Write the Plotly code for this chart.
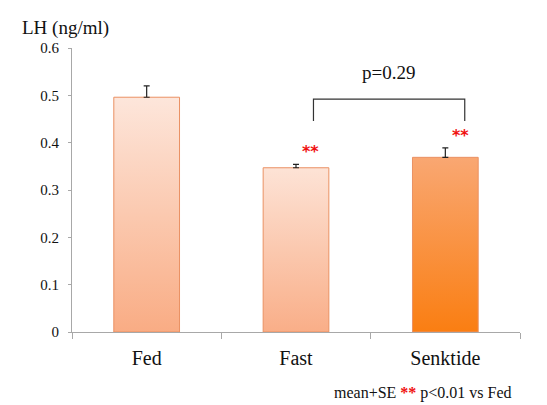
import plotly.graph_objects as go

categories = ["Fed", "Fast", "Senktide"]
means = [0.496, 0.347, 0.369]
se = [0.024, 0.007, 0.020]
top_colors = ["#FDE6DB", "#FDE3D6", "#F9A772"]
bottom_colors = ["#F9AC84", "#F9AE88", "#FA7E12"]
y_ticks = [0, 0.1, 0.2, 0.3, 0.4, 0.5, 0.6]
sig_labels = ["", "**", "**"]
p_label = "p=0.29"
bracket_y = 0.492
bracket_leg = 0.446

SERIF = "Liberation Serif, Times New Roman, serif"
bar_w = 0.44
xs = list(range(len(categories)))

fig = go.Figure()
for i, (m, tc, bc) in enumerate(zip(means, top_colors, bottom_colors)):
    fig.add_trace(go.Scatter(
        x=[i - bar_w / 2, i - bar_w / 2, i + bar_w / 2, i + bar_w / 2, i - bar_w / 2],
        y=[0, m, m, 0, 0],
        mode="lines", fill="toself",
        line=dict(color="#EA9163", width=1),
        fillgradient=dict(type="vertical", start=0, stop=m,
                          colorscale=[[0, bc], [1, tc]]),
        hoverinfo="skip", showlegend=False))

fig.add_trace(go.Scatter(
    x=xs, y=means, mode="markers",
    marker=dict(size=1, color="rgba(0,0,0,0)"),
    error_y=dict(type="data", array=se, arrayminus=[0] * len(se), symmetric=False,
                 color="#222222", thickness=1.2, width=3),
    showlegend=False, hoverinfo="skip"))

# significance stars
for i, (lab, m, e) in enumerate(zip(sig_labels, means, se)):
    if lab:
        fig.add_annotation(x=i + 0.1, y=m + e, yshift=1, text="<b>" + lab + "</b>",
                           showarrow=False, xanchor="center", yanchor="bottom",
                           font=dict(color="#F01010", size=16, family="DejaVu Sans"))

# bracket
fig.add_shape(type="path", xref="x", yref="y",
              path=f"M {1.117} {bracket_leg} L {1.117} {bracket_y} L {2.13} {bracket_y} L {2.13} {bracket_leg}",
              line=dict(color="#333333", width=1.2))
fig.add_annotation(x=1.62, y=0.549, text=p_label, showarrow=False,
                   font=dict(family=SERIF, size=19, color="#111111"))

# y title
fig.add_annotation(xref="paper", yref="paper", x=-0.116, y=1.072, text="LH (ng/ml)",
                   showarrow=False, xanchor="left", yanchor="middle",
                   font=dict(family=SERIF, size=19, color="#111111"))

# footnote
fig.add_annotation(xref="paper", yref="paper", x=0.986, y=-0.215,
                   text="mean+SE <span style='color:#F01010'><b>**</b></span> p<0.01 vs Fed",
                   showarrow=False, xanchor="right", yanchor="middle",
                   font=dict(family=SERIF, size=16, color="#111111"))

fig.update_layout(
    width=547, height=405,
    margin=dict(l=72, r=27, t=48, b=73),
    paper_bgcolor="white", plot_bgcolor="white",
    xaxis=dict(range=[-0.5, 2.5], tickvals=xs, ticktext=categories,
               ticks="", showline=True, linecolor="#A8A8A8", linewidth=1.2,
               showgrid=False, zeroline=False, ticklabelstandoff=8,
               tickfont=dict(family=SERIF, size=20, color="#111111"),
               minor=dict(tickvals=[-0.5, 0.5, 1.5, 2.5], ticks="outside",
                          ticklen=6, tickcolor="#A8A8A8", tickwidth=1.2, showgrid=False)),
    yaxis=dict(range=[0, 0.6], tickvals=y_ticks, ticktext=[f"{v:g}" for v in y_ticks],
               ticks="outside", ticklen=3, tickcolor="#A8A8A8", tickwidth=1.2,
               showline=True, linecolor="#A8A8A8", linewidth=1.2,
               showgrid=False, zeroline=False, ticklabelstandoff=6,
               tickfont=dict(family=SERIF, size=15, color="#111111")),
)

fig.write_html("out.html")
